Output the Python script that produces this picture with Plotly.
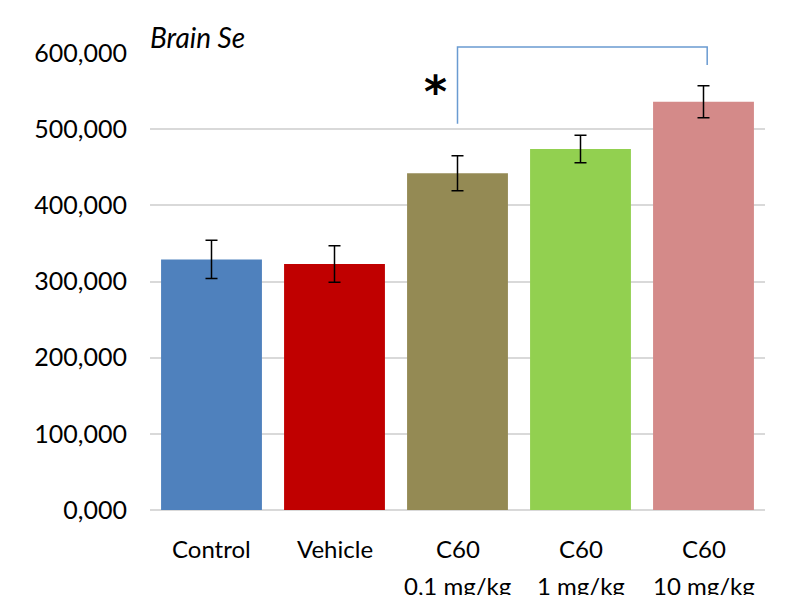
import plotly.graph_objects as go

categories = ["Control", "Vehicle", "C60", "C60", "C60"]
sublabels = ["", "", "0,1 mg/kg", "1 mg/kg", "10 mg/kg"]
values = [329000, 323000, 442000, 474000, 536000]
errors = [25000, 24000, 23000, 18000, 21000]
colors = ["#4F81BD", "#C00000", "#948A54", "#92D050", "#D48A89"]
tick_vals = [0, 100000, 200000, 300000, 400000, 500000, 600000]
tick_text = ["0,000", "100,000", "200,000", "300,000", "400,000", "500,000", "600,000"]

FONT = "Lato, Open Sans, sans-serif"
xs = list(range(len(values)))

fig = go.Figure()
fig.add_trace(go.Bar(
    x=xs, y=values,
    marker=dict(color=colors, line=dict(width=0)),
    width=0.82,
    error_y=dict(type="data", array=errors, color="black", thickness=1.5, width=6),
))

annotations = []
for i, (c, s) in enumerate(zip(categories, sublabels)):
    annotations.append(dict(x=i, y=-0.085, xref="x", yref="paper", text=c,
                            showarrow=False, yanchor="middle",
                            font=dict(family=FONT, size=24, color="black")))
    if s:
        annotations.append(dict(x=i, y=-0.166, xref="x", yref="paper", text=s,
                                showarrow=False, yanchor="middle",
                                font=dict(family=FONT, size=24, color="black")))
annotations.append(dict(x=-0.003, y=1.035, xref="paper", yref="paper", text="<i>Brain Se</i>",
                        showarrow=False, xanchor="left", yanchor="middle",
                        font=dict(family=FONT, size=28, color="black")))
annotations.append(dict(x=1.82, y=0.915, xref="x", yref="paper", text="<b>*</b>",
                        showarrow=False, xanchor="center", yanchor="middle",
                        font=dict(family="DejaVu Sans", size=44, color="black")))

fig.update_layout(
    width=791, height=595,
    margin=dict(l=150, r=26, t=53, b=85),
    paper_bgcolor="white", plot_bgcolor="white",
    showlegend=False,
    bargap=0.18,
    xaxis=dict(range=[-0.5, 4.5], showticklabels=False, showgrid=False,
               zeroline=False, showline=False, ticks=""),
    yaxis=dict(range=[0, 600000], tickvals=tick_vals, ticktext=tick_text,
               showgrid=True, gridcolor="#D9D9D9", gridwidth=1.5,
               zeroline=True, zerolinecolor="#D9D9D9", zerolinewidth=1.5,
               showline=False, ticks="", ticklabelstandoff=22,
               tickfont=dict(family=FONT, size=25, color="black")),
    annotations=annotations,
    shapes=[dict(type="path", xref="x", yref="paper",
                 path="M 2,0.845 L 2,1.013 L 4.03,1.013 L 4.03,0.974",
                 line=dict(color="#6A9BD1", width=1.5))],
)

fig.write_html("out.html")
